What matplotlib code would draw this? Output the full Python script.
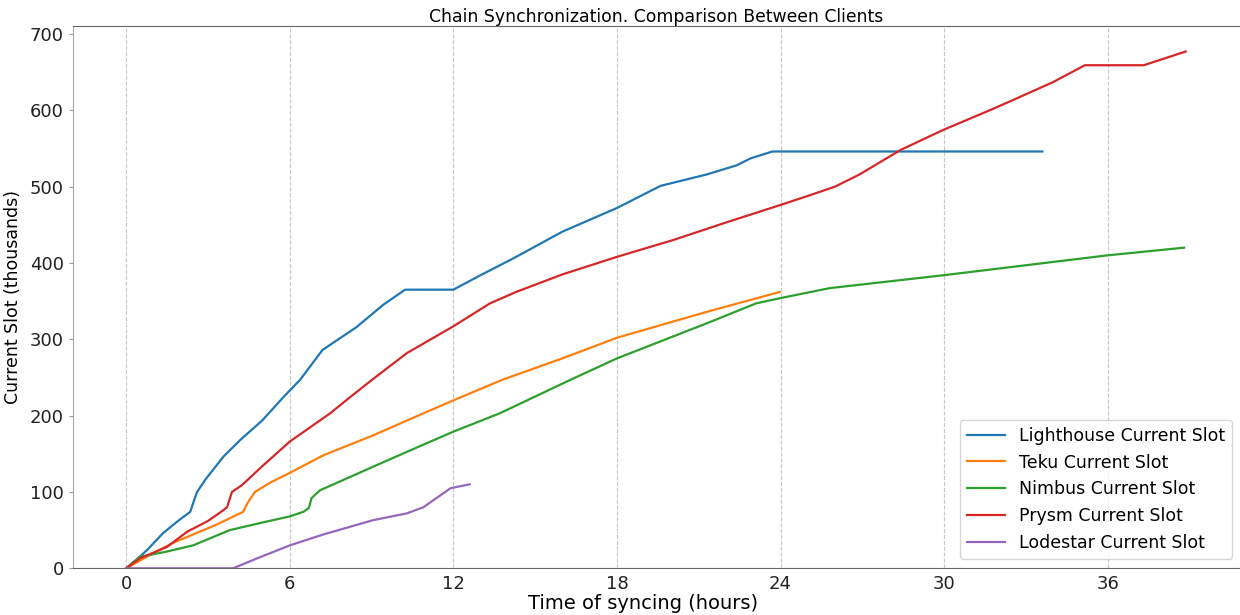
import matplotlib
matplotlib.use("Agg")
import matplotlib.pyplot as plt

# ---- data (hours, thousands of slots) ----
lighthouse_x = [0, 0.4, 0.77, 1.35, 1.9, 2.35, 2.5, 2.6, 2.9, 3.56, 4.18, 5.0, 5.76, 6.38, 7.2, 8.45, 9.42, 10.23, 12.0, 13.0, 14.2, 16.0, 18.0, 19.6, 21.3, 22.4, 22.9, 23.7, 33.6]
lighthouse_y = [0, 12, 24, 46, 62, 74, 90, 100, 116, 146, 168, 194, 224, 247, 286, 316, 345, 365, 365, 384, 406, 441, 472, 501, 516, 528, 537, 546, 546]

teku_x = [0, 0.5, 1.0, 1.7, 2.5, 3.3, 4.29, 4.46, 4.72, 5.27, 6.0, 7.23, 9.05, 10.9, 12.0, 13.8, 16.0, 18.0, 21.3, 23.97]
teku_y = [0, 10, 20, 33, 45, 57, 74, 86, 100, 112, 125, 148, 174, 203, 220, 247, 275, 302, 336, 362]

nimbus_x = [0, 0.5, 1.5, 2.45, 3.8, 5.0, 6.0, 6.5, 6.7, 6.8, 7.1, 9.05, 10.9, 12.0, 13.7, 16.3, 18.0, 21.3, 23.1, 24.0, 25.8, 30.0, 36.0, 38.8]
nimbus_y = [0, 15, 22, 30, 50, 60, 68, 74, 79, 92, 102, 133, 162, 179, 203, 247, 275, 321, 347, 354, 367, 384, 410, 420]

prysm_x = [0, 0.5, 1.5, 2.24, 3.0, 3.56, 3.7, 3.88, 4.25, 5.0, 6.0, 7.48, 8.1, 9.02, 10.3, 12.0, 13.34, 14.3, 16.0, 18.0, 20.06, 22.0, 24.0, 25.1, 26.0, 26.9, 28.4, 29.95, 31.67, 32.5, 34.0, 35.16, 37.32, 38.86]
prysm_y = [0, 13, 28, 48, 62, 76, 80, 100, 109, 134, 166, 203, 221, 247, 282, 317, 347, 362, 385, 408, 430, 453, 476, 489, 500, 516, 548, 574, 600, 613, 637, 659, 659, 677]

lodestar_x = [0, 3.92, 4.8, 6.0, 7.2, 9.05, 10.3, 10.9, 11.5, 11.9, 12.6]
lodestar_y = [0, 0, 13, 30, 44, 63, 72, 80, 95, 105, 110]

labels = ["Lighthouse Current Slot", "Teku Current Slot", "Nimbus Current Slot",
          "Prysm Current Slot", "Lodestar Current Slot"]
colors = ["#1f77b4", "#ff7f0e", "#2ca02c", "#d62728", "#9467bd"]
xticks = [0, 6, 12, 18, 24, 30, 36]
yticks = [0, 100, 200, 300, 400, 500, 600, 700]

fig = plt.figure(figsize=(12.4, 6.15), dpi=100)
ax = fig.add_axes([73/1240, 46.7/615, 1167/1240, 542/615])

series = [(lighthouse_x, lighthouse_y), (teku_x, teku_y), (nimbus_x, nimbus_y),
          (prysm_x, prysm_y), (lodestar_x, lodestar_y)]
for (xs, ys), lab, c in zip(series, labels, colors):
    ax.plot(xs, ys, color=c, lw=1.6, label=lab)

ax.set_xlim(-1.95, 40.85)
ax.set_ylim(0, 710)
ax.set_xticks(xticks)
ax.set_yticks(yticks)
ax.tick_params(axis="both", labelsize=13, colors="#222222")
ax.tick_params(axis="x", length=0, pad=5)
ax.tick_params(axis="y", length=3, color="#999999")
ax.grid(axis="x", linestyle="--", color="#c8c8c8", lw=0.8)
ax.grid(axis="y", visible=False)
for s in ["top", "bottom"]:
    ax.spines[s].set_color("#666666")
ax.spines["right"].set_visible(False)
ax.spines["left"].set_color("#aaaaaa")

ax.set_title("Chain Synchronization. Comparison Between Clients", fontsize=12.4, pad=3)
ax.set_xlabel("Time of syncing (hours)", fontsize=14)
ax.xaxis.set_label_coords((643 - 73) / 1167, -0.048)
ax.set_ylabel("Current Slot (thousands)", fontsize=12.5, labelpad=6)

leg = ax.legend(loc="lower right", fontsize=12.5, framealpha=0.8,
                bbox_to_anchor=((1232 - 73) / 1167, 0.018), borderaxespad=0,
                handlelength=2.2, labelspacing=0.5, handletextpad=0.8)

fig.savefig("out.png", dpi=100)
